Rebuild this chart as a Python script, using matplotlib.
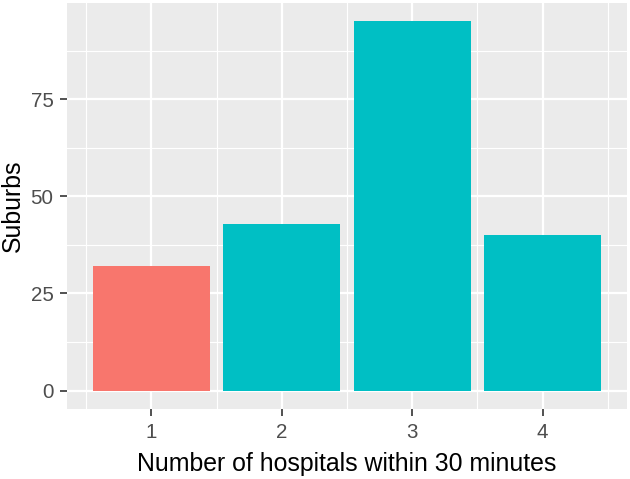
import matplotlib
matplotlib.use("Agg")
import matplotlib.pyplot as plt
from matplotlib.ticker import FixedLocator

hospitals = [1, 2, 3, 4]
suburbs = [32, 43, 95, 40]
bar_colors = ["#F8766D", "#00BFC4", "#00BFC4", "#00BFC4"]
x_ticks = [1, 2, 3, 4]
x_minor = [0.5, 1.5, 2.5, 3.5, 4.5]
y_ticks = [0, 25, 50, 75]
y_minor = [12.5, 37.5, 62.5, 87.5]

plt.rcParams['font.family'] = ['Liberation Sans', 'DejaVu Sans']

fig = plt.figure(figsize=(6.3, 4.79), dpi=100)
ax = fig.add_axes([0.1068, 0.1461, 0.9948 - 0.1068, 0.9937 - 0.1461])
ax.set_facecolor("#EBEBEB")

ax.bar(hospitals, suburbs, width=0.9, color=bar_colors, zorder=3)

ax.set_xlim(0.355, 4.645)
ax.set_ylim(-4.75, 99.75)
ax.xaxis.set_major_locator(FixedLocator(x_ticks))
ax.xaxis.set_minor_locator(FixedLocator(x_minor))
ax.yaxis.set_major_locator(FixedLocator(y_ticks))
ax.yaxis.set_minor_locator(FixedLocator(y_minor))

ax.grid(which="major", color="white", linewidth=1.6, zorder=1)
ax.grid(which="minor", color="white", linewidth=0.8, zorder=1)
ax.set_axisbelow(True)

for s in ax.spines.values():
    s.set_visible(False)

ax.tick_params(which="major", length=5, width=1.2, color="#333333",
               labelsize=14.8, labelcolor="#4D4D4D", pad=5)
ax.tick_params(which="minor", length=0)

ax.set_xlabel("Number of hospitals within 30 minutes", fontsize=17.9, color="black", labelpad=7)
ax.set_ylabel("Suburbs", fontsize=17.9, color="black", labelpad=4)

fig.savefig("out.png", dpi=100)
